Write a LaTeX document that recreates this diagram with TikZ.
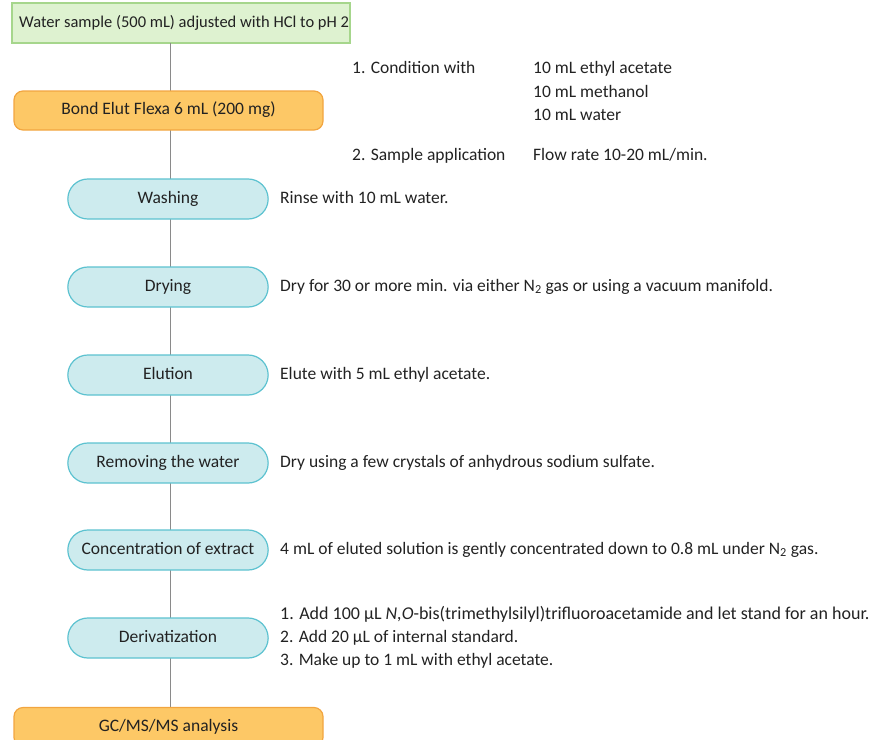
\documentclass[tikz,border=0pt]{standalone}
\usepackage{fontspec}
\setmainfont{Carlito}
\usetikzlibrary{shapes.misc}
\definecolor{gfill}{HTML}{DEF2D0}
\definecolor{gdraw}{HTML}{A6D68C}
\definecolor{ofill}{HTML}{FDC866}
\definecolor{odraw}{HTML}{F2A540}
\definecolor{cfill}{HTML}{CDEBEE}
\definecolor{cdraw}{HTML}{5CC2D0}
\definecolor{lgray}{HTML}{8A8A8A}
\definecolor{txt}{HTML}{222222}
\begin{document}
\begin{tikzpicture}[x=1pt,y=1pt,
  every node/.style={font=\fontsize{17.5}{19}\selectfont, text=txt},
  greenbox/.style={draw=gdraw, fill=gfill, line width=1.2pt, minimum width=338pt, minimum height=40pt, anchor=center},
  orangebox/.style={draw=odraw, fill=ofill, line width=1.2pt, rounded corners=9pt, minimum width=309pt, minimum height=39pt, text height=12pt, text depth=4pt},
  cyanbox/.style={draw=cdraw, fill=cfill, line width=1.2pt, rounded rectangle, minimum width=207pt, minimum height=40pt, text height=12pt, text depth=4pt},
  desc/.style={anchor=west, inner sep=0pt, text height=12pt, text depth=4pt},
  conn/.style={draw=lgray, line width=1pt}]
\useasboundingbox (0,0) rectangle (888,-739);
\node[greenbox] (water) at (181,-23) {};
\node[anchor=west, inner sep=0pt, font=\fontsize{16.5}{18}\selectfont, text height=12pt, text depth=4pt] (watertxt) at (19,-23) {Water sample (500 mL) adjusted with HCl to pH 2};
\coordinate (ltop) at (170,-43);
\coordinate (lbot) at (170,-707);
\draw[conn] (ltop) -- (lbot);
\node[orangebox] (bond) at (168.5,-110.5) {Bond Elut Flexa 6 mL (200 mg)};
\node[cyanbox] (wash) at (168,-199) {Washing};
\node[cyanbox] (dry) at (168,-287) {Drying};
\node[cyanbox] (elut) at (168,-375) {Elution};
\node[cyanbox] (remw) at (168,-463) {Removing the water};
\node[cyanbox] (conc) at (168,-550) {Concentration of extract};
\node[cyanbox] (deriv) at (168,-638) {Derivatization};
\node[orangebox] (gc) at (168.5,-727) {GC/MS/MS analysis};
% descriptions
\node[desc] (c1) at (352,-69) {1. Condition with};
\node[desc] (c1a) at (533,-69) {10 mL ethyl acetate};
\node[desc] (c1b) at (533,-93) {10 mL methanol};
\node[desc] (c1c) at (533,-116) {10 mL water};
\node[desc] (c2) at (352,-156) {2. Sample application};
\node[desc] (c2a) at (533,-156) {Flow rate 10-20 mL/min.};
\node[desc] (dwash) at (280,-199) {Rinse with 10 mL water.};
\node[desc] (ddry) at (280,-287) {Dry for 30 or more min. via either N\textsubscript{2} gas or using a vacuum manifold.};
\node[desc] (delut) at (280,-375) {Elute with 5 mL ethyl acetate.};
\node[desc] (dremw) at (280,-463) {Dry using a few crystals of anhydrous sodium sulfate.};
\node[desc] (dconc) at (280,-550) {4 mL of eluted solution is gently concentrated down to 0.8 mL under N\textsubscript{2} gas.};
\node[desc, font=\fontsize{18}{19}\selectfont] (dd1) at (280,-615) {1. Add 100 µL \textit{N,O}-bis(trimethylsilyl)trifluoroacetamide and let stand for an hour.};
\node[desc] (dd2) at (280,-638) {2. Add 20 µL of internal standard.};
\node[desc] (dd3) at (280,-661) {3. Make up to 1 mL with ethyl acetate.};
\end{tikzpicture}
\end{document}
